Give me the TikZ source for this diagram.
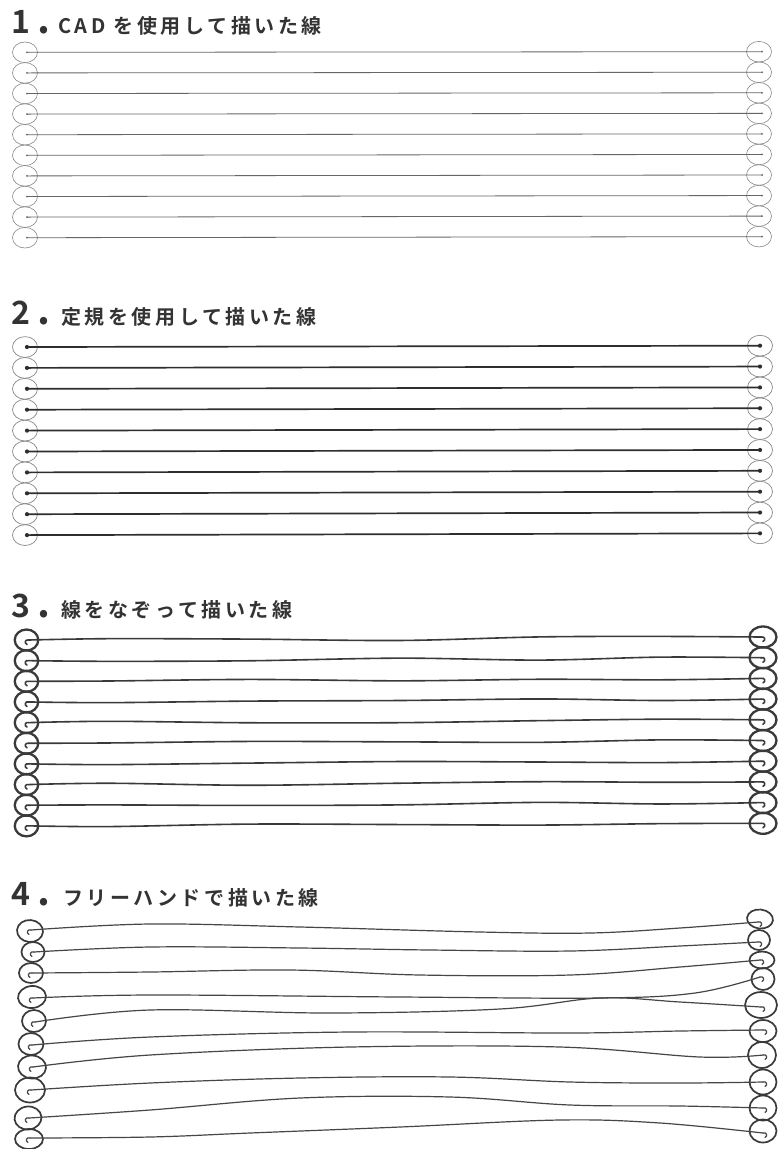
\documentclass[tikz,border=0pt]{standalone}
\usepackage{fontspec}
\newfontfamily\jp{Noto Sans CJK JP}[BoldFont={Noto Sans CJK JP Bold}]
\usetikzlibrary{shapes.geometric}
\definecolor{ink}{HTML}{333333}
\definecolor{cadline}{HTML}{666666}
\definecolor{cadring}{HTML}{888888}
\definecolor{rulerline}{HTML}{2E2E2E}
\definecolor{handink}{HTML}{3A3A3A}
\definecolor{freeink}{HTML}{464646}
\tikzset{
  titlenum/.style={anchor=base west, inner sep=0pt, text=ink, font=\jp\bfseries\fontsize{32}{32}\selectfont},
  titledot/.style={anchor=base west, inner sep=0pt, text=ink, font=\jp\bfseries\fontsize{40}{40}\selectfont},
  titletext/.style={anchor=base west, inner sep=0pt, text=ink, font=\jp\bfseries\fontsize{20}{20}\selectfont\addfontfeature{LetterSpace=18}},
  ringA/.style={ellipse, draw=cadring, line width=0.6pt, minimum width=25pt, minimum height=20.6pt, inner sep=0pt},
  lineA/.style={draw=cadline, line width=0.8pt},
  dotA/.style={fill=cadline},
  ringB/.style={ellipse, draw=cadring, line width=0.7pt, minimum width=25pt, minimum height=20.8pt, inner sep=0pt},
  lineB/.style={draw=rulerline, line width=1.7pt},
  dotB/.style={fill=rulerline},
  ringC/.style={ellipse, draw=handink, line width=2.3pt, inner sep=0pt},
  lineC/.style={draw=handink, line width=1.6pt, line cap=round},
  ringD/.style={ellipse, draw=handink, line width=1.7pt, inner sep=0pt},
  lineD/.style={draw=freeink, line width=1.2pt, line cap=round},
}
\begin{document}
\begin{tikzpicture}[x=1pt,y=-1pt]
\useasboundingbox[fill=white] (0,0) rectangle (777,1149);

% ---------- titles ----------
\node[titlenum] (t1n) at (11,33) {1};
\node[titledot] (t1d) at (37,33) {.};
\node[titletext] (t1) at (58,33) {CAD を使用して描いた線};
\node[titlenum] (t2n) at (11,324) {2};
\node[titledot] (t2d) at (37,324) {.};
\node[titletext] (t2) at (61,324) {定規を使用して描いた線};
\node[titlenum] (t3n) at (11,617) {3};
\node[titledot] (t3d) at (37,617) {.};
\node[titletext] (t3) at (61,617) {線をなぞって描いた線};
\node[titlenum] (t4n) at (11,905) {4};
\node[titledot] (t4d) at (37,905) {.};
\node[titletext] (t4) at (63,905) {フリーハンドで描いた線};

% ---------- 1. CAD ----------
\foreach \i in {0,...,9} {
  \pgfmathsetmacro\yl{52.3+20.6*\i}
  \pgfmathsetmacro\yr{51.7+20.55*\i}
  \node[ringA] (aL\i) at (25,\yl) {};
  \node[ringA] (aR\i) at (759,\yr) {};
  \coordinate (aP\i) at (27,\yl);
  \coordinate (aQ\i) at (762,\yr);
  \draw[lineA] (aP\i) -- (aQ\i);
  \fill[dotA] (aP\i) circle (1pt);
  \fill[dotA] (aQ\i) circle (1pt);
}

% ---------- 2. ruler ----------
\foreach \i in {0,...,9} {
  \pgfmathsetmacro\yl{347+20.9*\i}
  \pgfmathsetmacro\yr{345.7+20.85*\i}
  \node[ringB] (bL\i) at (25,\yl) {};
  \node[ringB] (bR\i) at (760,\yr) {};
  \coordinate (bP\i) at (27,\yl);
  \coordinate (bQ\i) at (760,\yr);
  \draw[lineB] (bP\i) -- (bQ\i);
  \fill[dotB] (bP\i) circle (2.1pt);
  \fill[dotB] (bQ\i) circle (2.1pt);
}

% ---------- 3. traced ----------
\foreach \i/\a/\b/\c/\d/\e in {0/-1/0/2/-1/-1, 1/1/1/-1/1.5/-1, 2/0/-1/1/0/1, 3/1/0/0/-1/1,
  4/-1/1/1.5/0/-1, 5/0/-1/0/1/-1, 6/1/0/-1/0/1, 7/-1/1.5/0/-1/0, 8/0/1/1/-1/1, 9/1/-1/0/1/0} {
  \pgfmathsetmacro\yl{640+20.65*\i}
  \pgfmathsetmacro\yr{637+20.7*\i}
  \pgfmathsetmacro\ya{\yl+0.11*(\yr-\yl)+(\a)}
  \pgfmathsetmacro\yb{\yl+0.30*(\yr-\yl)+(\b)}
  \pgfmathsetmacro\yc{\yl+0.51*(\yr-\yl)+(\c)}
  \pgfmathsetmacro\yd{\yl+0.70*(\yr-\yl)+(\d)}
  \pgfmathsetmacro\ye{\yl+0.86*(\yr-\yl)+(\e)}
  \node[ringC, minimum width=23.5pt, minimum height=21pt] (cL\i) at (26.5,\yl) {};
  \node[ringC, minimum width=27pt, minimum height=21pt] (cR\i) at (763,\yr) {};
  \coordinate (cP\i) at (29,\yl);
  \coordinate (cQ\i) at (761,\yr);
  \draw[lineC] plot[smooth, tension=0.55] coordinates
    {(cP\i) (110,\ya) (250,\yb) (400,\yc) (540,\yd) (660,\ye) (cQ\i)};
  \draw[lineC, shift={(cP\i)}] (0,0) .. controls (-4,-1) and (-5,3) .. (-2,4.5);
  \draw[lineC, shift={(cQ\i)}] (0,0) .. controls (4,-1) and (5,3) .. (2,4.5);
}

% ---------- 4. freehand ----------
% left circles
\node[ringD, minimum width=26pt, minimum height=22pt, rotate=-5] (dL0) at (30,931) {};
\node[ringD, minimum width=23pt, minimum height=20pt] (dL1) at (33,952) {};
\node[ringD, minimum width=24pt, minimum height=20pt] (dL2) at (31,973) {};
\node[ringD, minimum width=28pt, minimum height=22pt, rotate=5] (dL3) at (32,997) {};
\node[ringD, minimum width=24pt, minimum height=22pt] (dL4) at (34,1021) {};
\node[ringD, minimum width=25pt, minimum height=22pt] (dL5) at (31,1044) {};
\node[ringD, minimum width=28pt, minimum height=23pt, rotate=-4] (dL6) at (32,1067) {};
\node[ringD, minimum width=30pt, minimum height=25pt] (dL7) at (30,1090) {};
\node[ringD, minimum width=27pt, minimum height=23pt, rotate=6] (dL8) at (28,1118) {};
\node[ringD, minimum width=28pt, minimum height=20pt] (dL9) at (29,1139) {};
% right circles
\node[ringD, minimum width=26pt, minimum height=19pt, rotate=-6] (dR0) at (760,919) {};
\node[ringD, minimum width=22pt, minimum height=20pt] (dR1) at (759,940) {};
\node[ringD, minimum width=25pt, minimum height=17pt] (dR2) at (762,960) {};
\node[ringD, minimum width=23pt, minimum height=22pt] (dR3) at (763,979) {};
\node[ringD, minimum width=32pt, minimum height=26pt] (dR4) at (761,1005) {};
\node[ringD, minimum width=27pt, minimum height=22pt] (dR5) at (763,1031) {};
\node[ringD, minimum width=28pt, minimum height=26pt] (dR6) at (762,1055) {};
\node[ringD, minimum width=27pt, minimum height=25pt] (dR7) at (763,1082) {};
\node[ringD, minimum width=27pt, minimum height=25pt] (dR8) at (763,1108) {};
\node[ringD, minimum width=27pt, minimum height=23pt] (dR9) at (763,1131) {};
% line ends
\coordinate (dP0) at (31,930);  \coordinate (dQ0) at (758,922);
\coordinate (dP1) at (34,952);  \coordinate (dQ1) at (758,942);
\coordinate (dP2) at (32,973);  \coordinate (dQ2) at (760,960);
\coordinate (dP3) at (33,998);  \coordinate (dQ3) at (760,977);
\coordinate (dP4) at (35,1022); \coordinate (dQ4) at (761,1007);
\coordinate (dP5) at (32,1045); \coordinate (dQ5) at (763,1030);
\coordinate (dP6) at (33,1067); \coordinate (dQ6) at (763,1055);
\coordinate (dP7) at (31,1090); \coordinate (dQ7) at (763,1082);
\coordinate (dP8) at (29,1118); \coordinate (dQ8) at (763,1108);
\coordinate (dP9) at (30,1138); \coordinate (dQ9) at (763,1133);
\draw[lineD] plot[smooth, tension=0.6] coordinates {(dP0) (150,924) (300,927) (480,932) (590,933) (680,928) (dQ0)};
\draw[lineD] plot[smooth, tension=0.6] coordinates {(dP1) (150,947) (300,948) (430,950) (570,951) (680,946) (dQ1)};
\draw[lineD] plot[smooth, tension=0.6] coordinates {(dP2) (150,972) (290,970) (420,975) (570,975) (680,967) (dQ2)};
\draw[lineD] plot[smooth, tension=0.6] coordinates {(dP3) (150,995) (400,997) (600,998) (695,993) (dQ3)};
\draw[lineD] plot[smooth, tension=0.6] coordinates {(dP4) (150,1010) (330,1013) (500,1009) (600,998) (680,1002) (dQ4)};
\draw[lineD] plot[smooth, tension=0.6] coordinates {(dP5) (150,1037) (350,1032) (570,1033) (680,1031) (dQ5)};
\draw[lineD] plot[smooth, tension=0.6] coordinates {(dP6) (150,1055) (350,1047) (560,1047) (700,1057) (dQ6)};
\draw[lineD] plot[smooth, tension=0.6] coordinates {(dP7) (150,1083) (300,1078) (450,1077) (570,1082) (680,1083) (dQ7)};
\draw[lineD] plot[smooth, tension=0.6] coordinates {(dP8) (150,1110) (300,1098) (450,1097) (570,1105) (680,1106) (dQ8)};
\draw[lineD] plot[smooth, tension=0.6] coordinates {(dP9) (150,1137) (250,1133) (400,1127) (560,1120) (660,1123) (dQ9)};
% hooks
\foreach \i in {0,...,9} {
  \draw[lineD, shift={(dP\i)}] (0,0) .. controls (-4,-1) and (-5,3) .. (-2,4.5);
  \draw[lineD, shift={(dQ\i)}] (0,0) .. controls (4,-1) and (5,3) .. (2,4.5);
}
\end{tikzpicture}
\end{document}
